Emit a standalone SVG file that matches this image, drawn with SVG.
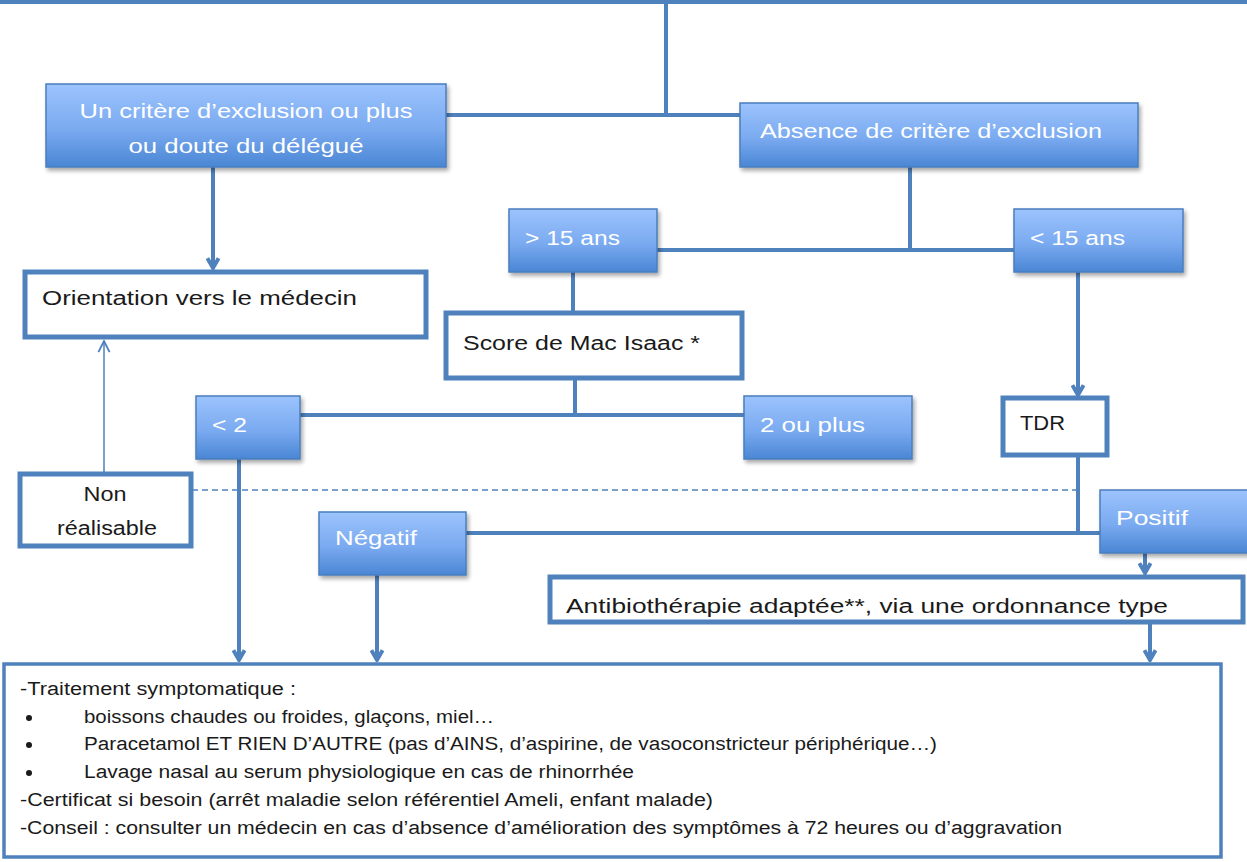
<svg xmlns="http://www.w3.org/2000/svg" width="1247" height="862" viewBox="0 0 1247 862">
<defs>
<linearGradient id="bg" x1="0" y1="0" x2="0" y2="1">
<stop offset="0" stop-color="#9CC3FD"/>
<stop offset="0.55" stop-color="#7AAAF0"/>
<stop offset="1" stop-color="#4A86D4"/>
</linearGradient>
<filter id="sh" x="-10%" y="-10%" width="130%" height="140%">
<feDropShadow dx="2" dy="3" stdDeviation="2" flood-color="#000" flood-opacity="0.35"/>
</filter>
<marker id="ah" viewBox="0 0 10 10" refX="8.5" refY="5" markerWidth="14" markerHeight="14" markerUnits="userSpaceOnUse" orient="auto">
<path d="M1.5,1 L8.5,5 L1.5,9" fill="none" stroke="#4F81BD" stroke-width="2.8" stroke-linejoin="miter"/>
</marker>
<marker id="ahs" viewBox="0 0 10 10" refX="9" refY="5" markerWidth="14" markerHeight="14" markerUnits="userSpaceOnUse" orient="auto">
<path d="M1,1 L9,5 L1,9" fill="none" stroke="#4F81BD" stroke-width="1.3"/>
</marker>
</defs>
<style>
.bb{fill:url(#bg);stroke:#4A7EBF;stroke-width:1.5;filter:url(#sh)}
.wb{fill:#fff;stroke:#4F81BD;stroke-width:5}
.wt{font-family:"Liberation Sans",Arial,sans-serif;font-size:20px;fill:#fff}
.dt{font-family:"Liberation Sans",Arial,sans-serif;font-size:20px;fill:#1a1a1a}
.st{font-family:"Liberation Sans",Arial,sans-serif;font-size:18px;fill:#1a1a1a}
.c{fill:none;stroke:#4F81BD;stroke-width:4}
.ct{fill:none;stroke:#4F81BD;stroke-width:1.5}
.cd{fill:none;stroke:#4F81BD;stroke-width:1.5;stroke-dasharray:6 4}
</style>
<rect width="1247" height="862" fill="#fff"/>
<g id="connectors">
<line class="c" x1="0" y1="2" x2="1247" y2="2"/>
<line class="c" x1="666" y1="2" x2="666" y2="115"/>
<line class="c" x1="446" y1="115" x2="740" y2="115"/>
<line class="c" x1="213" y1="167" x2="213" y2="268" marker-end="url(#ah)"/>
<line class="c" x1="910" y1="167" x2="910" y2="250"/>
<line class="c" x1="657" y1="250" x2="1014" y2="250"/>
<line class="c" x1="573" y1="272" x2="573" y2="312"/>
<line class="c" x1="1078" y1="272" x2="1078" y2="395" marker-end="url(#ah)"/>
<line class="c" x1="575" y1="378" x2="575" y2="415"/>
<line class="c" x1="300" y1="415" x2="744" y2="415"/>
<line class="c" x1="239" y1="459" x2="239" y2="660" marker-end="url(#ah)"/>
<line class="ct" x1="104" y1="472" x2="104" y2="341" marker-end="url(#ahs)"/>
<line class="cd" x1="192" y1="490" x2="1078" y2="490"/>
<line class="c" x1="1078" y1="455" x2="1078" y2="533"/>
<line class="c" x1="466" y1="533" x2="1100" y2="533"/>
<line class="c" x1="1145" y1="553" x2="1145" y2="573" marker-end="url(#ah)"/>
<line class="c" x1="377" y1="575" x2="377" y2="660" marker-end="url(#ah)"/>
<line class="c" x1="1150" y1="623" x2="1150" y2="660" marker-end="url(#ah)"/>
</g>
<g id="exclusion">
<rect class="bb" x="46" y="84" width="400" height="83"/>
<text class="wt" x="246" y="118" text-anchor="middle" textLength="333" lengthAdjust="spacingAndGlyphs">Un critère d’exclusion ou plus</text>
<text class="wt" x="246" y="153" text-anchor="middle" textLength="235" lengthAdjust="spacingAndGlyphs">ou doute du délégué</text>
</g>
<g id="absence">
<rect class="bb" x="740" y="103" width="398" height="64"/>
<text class="wt" x="760" y="138" textLength="342" lengthAdjust="spacingAndGlyphs">Absence de critère d’exclusion</text>
</g>
<g id="orientation">
<rect class="wb" x="25" y="272" width="401" height="65"/>
<text class="dt" x="42" y="305" textLength="315" lengthAdjust="spacingAndGlyphs">Orientation vers le médecin</text>
</g>
<g id="plus15">
<rect class="bb" x="509" y="209" width="148" height="63"/>
<text class="wt" x="525" y="245" textLength="95" lengthAdjust="spacingAndGlyphs">&gt; 15 ans</text>
</g>
<g id="moins15">
<rect class="bb" x="1014" y="209" width="169" height="63"/>
<text class="wt" x="1030" y="245" textLength="95" lengthAdjust="spacingAndGlyphs">&lt; 15 ans</text>
</g>
<g id="score">
<rect class="wb" x="446" y="313" width="296" height="65"/>
<text class="dt" x="463" y="350" textLength="237" lengthAdjust="spacingAndGlyphs">Score de Mac Isaac *</text>
</g>
<g id="moins2">
<rect class="bb" x="196" y="396" width="104" height="63"/>
<text class="wt" x="212" y="432" textLength="35" lengthAdjust="spacingAndGlyphs">&lt; 2</text>
</g>
<g id="deuxplus">
<rect class="bb" x="744" y="396" width="168" height="63"/>
<text class="wt" x="760" y="432" textLength="105" lengthAdjust="spacingAndGlyphs">2 ou plus</text>
</g>
<g id="tdr">
<rect class="wb" x="1003" y="398" width="104" height="57"/>
<text class="dt" x="1020" y="430" textLength="45" lengthAdjust="spacingAndGlyphs">TDR</text>
</g>
<g id="nonrealisable">
<rect class="wb" x="20" y="474" width="171" height="72"/>
<text class="dt" x="105" y="501" text-anchor="middle" textLength="43" lengthAdjust="spacingAndGlyphs">Non</text>
<text class="dt" x="107" y="535" text-anchor="middle" textLength="100" lengthAdjust="spacingAndGlyphs">réalisable</text>
</g>
<g id="negatif">
<rect class="bb" x="319" y="512" width="147" height="63"/>
<text class="wt" x="335" y="545" textLength="82" lengthAdjust="spacingAndGlyphs">Négatif</text>
</g>
<g id="positif">
<rect class="bb" x="1100" y="490" width="160" height="63"/>
<text class="wt" x="1116" y="525" textLength="72" lengthAdjust="spacingAndGlyphs">Positif</text>
</g>
<g id="antibio">
<rect class="wb" x="550" y="577" width="693" height="45"/>
<text class="dt" x="566" y="613" textLength="602" lengthAdjust="spacingAndGlyphs">Antibiothérapie adaptée**, via une ordonnance type</text>
</g>
<g id="traitement">
<rect x="4" y="664" width="1217" height="193" fill="#fff" stroke="#4F81BD" stroke-width="3.5"/>
<text class="st" x="20" y="695" textLength="276" lengthAdjust="spacingAndGlyphs">-Traitement symptomatique :</text>
<circle cx="29" cy="718" r="3" fill="#1a1a1a"/>
<text class="st" x="84" y="723" textLength="410" lengthAdjust="spacingAndGlyphs">boissons chaudes ou froides, glaçons, miel…</text>
<circle cx="29" cy="745" r="3" fill="#1a1a1a"/>
<text class="st" x="84" y="750" textLength="853" lengthAdjust="spacingAndGlyphs">Paracetamol ET RIEN D’AUTRE (pas d’AINS, d’aspirine, de vasoconstricteur périphérique…)</text>
<circle cx="29" cy="773" r="3" fill="#1a1a1a"/>
<text class="st" x="84" y="778" textLength="550" lengthAdjust="spacingAndGlyphs">Lavage nasal au serum physiologique en cas de rhinorrhée</text>
<text class="st" x="20" y="806" textLength="693" lengthAdjust="spacingAndGlyphs">-Certificat si besoin (arrêt maladie selon référentiel Ameli, enfant malade)</text>
<text class="st" x="20" y="834" textLength="1042" lengthAdjust="spacingAndGlyphs">-Conseil : consulter un médecin en cas d’absence d’amélioration des symptômes à 72 heures ou d’aggravation</text>
</g>
</svg>
